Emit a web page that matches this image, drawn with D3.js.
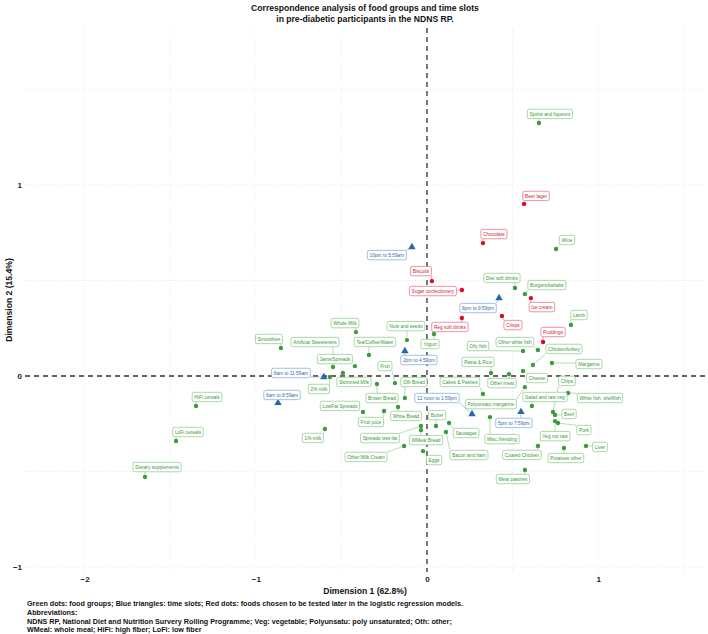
<!DOCTYPE html>
<html>
<head>
<meta charset="utf-8">
<script src="https://cdn.jsdelivr.net/npm/d3@7"></script>
<style>
  html, body { margin: 0; padding: 0; background: #fff; }
  svg { display: block; font-family: "Liberation Sans", Arial, sans-serif; }
</style>
</head>
<body>
<svg id="chart" width="708" height="634"></svg>
<script>
// ---------------- DATA ----------------
// Food groups (green dots): Dimension 1, Dimension 2
const foodNames = ["Spirits and liqueurs","Wine","Diet soft drinks","Burgers/kebabs","Lamb","Oily fish","Other white fish","Chicken/turkey","Margarine","Pasta & Rice","Other meat","Cheese","Cakes & Pasties","Polyunsatu margarine","Chips","White fish, shellfish","Salad and raw veg","Beef","Pork","Veg not raw","Misc./Vending","Coated Chicken","Potatoes other","Liver","Meat pastries","Sausages","Bacon and ham","Butter","Eggs","WMeal Bread","Spreads less-fat","Other Milk Cream","White Bread","Oth Bread","Fruit juice","LowFat Spreads","Brown Bread","Fruit","Skimmed Milk","2% milk","1% milk","Jams/Spreads","Artificial Sweeteners","Tea/Coffee/Water","Whole Milk","Nuts and seeds","Yogurt","Smoothies","HiFi cereals","LoFi cereals","Dietary supplements"];
const foodDim1 = [0.654,0.754,0.514,0.572,0.841,0.561,0.648,0.619,0.730,0.374,0.479,0.561,0.327,0.572,0.736,0.824,0.613,0.748,0.765,0.748,0.368,0.648,0.800,0.929,0.572,0.129,0.111,0.053,-0.023,-0.035,-0.035,-0.134,-0.169,-0.129,-0.251,-0.374,-0.292,-0.187,-0.491,-0.567,-0.596,-0.421,-0.549,-0.339,-0.415,-0.117,0.041,-0.853,-1.349,-1.466,-1.647];
const foodDim2 = [1.325,0.665,0.461,0.429,0.267,0.131,0.136,0.058,0.068,0.016,0.010,0.026,-0.094,-0.058,-0.188,-0.089,-0.157,-0.204,-0.246,-0.236,-0.215,-0.366,-0.377,-0.366,-0.492,-0.246,-0.293,-0.262,-0.393,-0.283,-0.262,-0.366,-0.162,-0.115,-0.183,-0.188,-0.042,-0.037,0.016,-0.005,-0.277,0.052,0.047,0.110,0.230,0.188,0.220,0.147,-0.157,-0.340,-0.529];

// Foods chosen for logistic regression (red dots)
const chosenNames = ["Beer lager","Chocolate","Biscuits","Sugar confectionery","Ice cream","Crisps","Reg soft drinks","Puddings"];
const chosenDim1 = [0.567,0.327,0.029,0.204,0.607,0.438,0.204,0.678];
const chosenDim2 = [0.901,0.696,0.497,0.450,0.408,0.314,0.304,0.178];

// Time slots (blue triangles)
const timeNames = ["10pm to 5:59am","8pm to 9:59pm","2pm to 4:59pm","8am to 11:59am","6am to 8:59am","12 noon to 1:59pm","5pm to 7:59pm"];
const timeDim1 = [-0.088,0.421,-0.129,-0.602,-0.870,0.263,0.549];
const timeDim2 = [0.675,0.408,0.131,-0.005,-0.141,-0.199,-0.188];

// Axis ticks
const xTicks = [-2,-1,0,1];
const yTicks = [-1,0,1];
const gridX = [-2,-1.5,-1,-0.5,0,0.5,1,1.5];
const gridY = [-1,-0.5,0,0.5,1,1.5];

// Repelled label offsets (pixels, label centre relative to point)
const foodLabelDx = [11,11,-13,22,8,-45,-23,31,37,-13,-7,14,-23,-34,14,32,13,14,26,0,12,-16,2,14,-12,17,23,1,11,5,-41,-38,8,9,-13,-23,5,-10,11,-11,-12,-20,-18,6,-11,-1,-4,-12,11,12,12];
const foodLabelDy = [-9,-9,-10,-9,-10,-5,-8,-16,1,-11,9,7,-12,17,-31,5,-9,-1,7,15,22,9,10,1,9,10,23,-11,9,10,12,11,9,-16,11,-6,14,-17,9,12,9,-7,-25,-13,-9,-14,10,-9,-9,-9,-10];
const chosenLabelDx = [12,11,-11,-29,11,11,-12,10];
const chosenLabelDy = [-8,-9,-10,1,9,9,9,-10];
const timeLabelDx = [-25,-21,14,-33,4,-35,-7];
const timeLabelDy = [8,10,9,-4,-8,-16,11];

// ---------------- CHART ----------------
const svg = d3.select("#chart");
const panel = {left: 25, right: 705, top: 28, bottom: 572};
const x = d3.scaleLinear().domain([-2.348, 1.624]).range([panel.left, panel.right]);
const y = d3.scaleLinear().domain([-1.026, 1.822]).range([panel.bottom, panel.top]);

const colors = {
  green: {dot: "#3a9d3a", text: "#389a38", border: "#86c786"},
  red:   {dot: "#e3071d", text: "#d41c2c", border: "#e0697a"},
  blue:  {dot: "#2a66ae", text: "#3a6aa8", border: "#7ea3d2"}
};

// grid
const grid = svg.append("g");
grid.selectAll("line.gx").data(gridX).join("line")
  .attr("x1", d => x(d)).attr("x2", d => x(d))
  .attr("y1", panel.top).attr("y2", panel.bottom)
  .attr("stroke", "#dcdcdc").attr("stroke-width", 0.6).attr("stroke-dasharray", "1,2");
grid.selectAll("line.gy").data(gridY).join("line")
  .attr("y1", d => y(d)).attr("y2", d => y(d))
  .attr("x1", panel.left).attr("x2", panel.right)
  .attr("stroke", "#dcdcdc").attr("stroke-width", 0.6).attr("stroke-dasharray", "1,2");

// zero lines
svg.append("line").attr("x1", panel.left).attr("x2", panel.right)
  .attr("y1", y(0)).attr("y2", y(0))
  .attr("stroke", "#333").attr("stroke-width", 1.3).attr("stroke-dasharray", "5,4");
svg.append("line").attr("x1", x(0)).attr("x2", x(0))
  .attr("y1", panel.top).attr("y2", panel.bottom)
  .attr("stroke", "#333").attr("stroke-width", 1.3).attr("stroke-dasharray", "5,4");

// axes
const xAxis = d3.axisBottom(x).tickValues(xTicks).tickSize(0).tickPadding(4).tickFormat(d3.format("d"));
const gx = svg.append("g").attr("transform", `translate(0,${panel.bottom})`).call(xAxis);
gx.select(".domain").remove();
gx.selectAll("text").attr("font-size", 8).attr("font-weight", "bold").attr("fill", "#222")
  .attr("font-family", "Liberation Sans, Arial, sans-serif");

const yAxis = d3.axisLeft(y).tickValues(yTicks).tickSize(0).tickPadding(3).tickFormat(d3.format("d"));
const gy = svg.append("g").attr("transform", `translate(${panel.left},0)`).call(yAxis);
gy.select(".domain").remove();
gy.selectAll("text").attr("font-size", 8).attr("font-weight", "bold").attr("fill", "#222")
  .attr("font-family", "Liberation Sans, Arial, sans-serif");

// build records
const records = [];
foodNames.forEach((n, i) => records.push({name: n, d1: foodDim1[i], d2: foodDim2[i], dx: foodLabelDx[i], dy: foodLabelDy[i], type: "green"}));
chosenNames.forEach((n, i) => records.push({name: n, d1: chosenDim1[i], d2: chosenDim2[i], dx: chosenLabelDx[i], dy: chosenLabelDy[i], type: "red"}));
timeNames.forEach((n, i) => records.push({name: n, d1: timeDim1[i], d2: timeDim2[i], dx: timeLabelDx[i], dy: timeLabelDy[i], type: "blue"}));

const fontSize = 4.8, padX = 2.2, boxH = 9.4;

// measure label widths
const measure = svg.append("text").attr("font-size", fontSize).attr("visibility", "hidden");
records.forEach(r => {
  measure.text(r.name);
  r.w = measure.node().getComputedTextLength() + 2 * padX;
  r.px = x(r.d1); r.py = y(r.d2);
  r.lx = r.px + r.dx; r.ly = r.py + r.dy;
});
measure.remove();

// segments
const segG = svg.append("g");
records.forEach(r => {
  const hx = r.w / 2, hy = boxH / 2;
  const ex = Math.max(r.lx - hx, Math.min(r.px, r.lx + hx));
  const ey = Math.max(r.ly - hy, Math.min(r.py, r.ly + hy));
  const dist = Math.hypot(r.px - ex, r.py - ey);
  if (dist > 4) {
    segG.append("line")
      .attr("x1", r.px).attr("y1", r.py).attr("x2", ex).attr("y2", ey)
      .attr("stroke", colors[r.type].border).attr("stroke-width", 0.6);
  }
});

// points
const ptG = svg.append("g");
ptG.selectAll("circle").data(records.filter(r => r.type !== "blue")).join("circle")
  .attr("cx", d => d.px).attr("cy", d => d.py).attr("r", 2.2)
  .attr("fill", d => colors[d.type].dot);
const tri = d3.symbol().type(d3.symbolTriangle).size(24);
ptG.selectAll("path").data(records.filter(r => r.type === "blue")).join("path")
  .attr("d", tri).attr("transform", d => `translate(${d.px},${d.py})`)
  .attr("fill", colors.blue.dot);

// labels
const lab = svg.append("g").selectAll("g").data(records).join("g")
  .attr("transform", d => `translate(${d.lx},${d.ly})`);
lab.append("rect")
  .attr("x", d => -d.w / 2).attr("y", -boxH / 2)
  .attr("width", d => d.w).attr("height", boxH)
  .attr("rx", 1.8).attr("ry", 1.8)
  .attr("fill", "#fff").attr("stroke", d => colors[d.type].border).attr("stroke-width", 0.7);
lab.append("text")
  .attr("text-anchor", "middle").attr("dy", "0.35em")
  .attr("font-size", fontSize).attr("fill", d => colors[d.type].text)
  .text(d => d.name);

// titles
const cx = (panel.left + panel.right) / 2;
svg.append("text").attr("x", cx).attr("y", 11).attr("text-anchor", "middle")
  .attr("font-size", 8.6).attr("font-weight", "bold").attr("fill", "#111")
  .text("Correspondence analysis of food groups and time slots");
svg.append("text").attr("x", cx).attr("y", 22).attr("text-anchor", "middle")
  .attr("font-size", 8.6).attr("font-weight", "bold").attr("fill", "#111")
  .text("in pre-diabetic participants in the NDNS RP.");

svg.append("text").attr("x", cx).attr("y", 594).attr("text-anchor", "middle")
  .attr("font-size", 8.6).attr("font-weight", "bold").attr("fill", "#111")
  .text("Dimension 1 (62.8%)");
svg.append("text").attr("transform", `translate(12,${(panel.top + panel.bottom) / 2}) rotate(-90)`)
  .attr("text-anchor", "middle")
  .attr("font-size", 8.6).attr("font-weight", "bold").attr("fill", "#111")
  .text("Dimension 2 (15.4%)");

// caption
const caption = [
  "Green dots: food groups; Blue triangles: time slots; Red dots: foods chosen to be tested later in the logistic regression models.",
  "Abbreviations:",
  "NDNS RP, National Diet and Nutrition Survery Rolling Programme; Veg: vegetable; Polyunsatu: poly unsaturated; Oth: other;",
  "WMeal: whole meal; HiFi: high fiber; LoFi: low fiber"
];
svg.append("g").selectAll("text").data(caption).join("text")
  .attr("x", 27).attr("y", (d, i) => 606 + i * 8.8)
  .attr("font-size", 7.2).attr("font-weight", "bold").attr("fill", "#111")
  .text(d => d);
</script>
</body>
</html>
